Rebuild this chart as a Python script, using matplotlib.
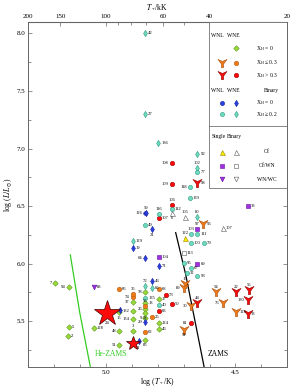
import numpy as np
import matplotlib
matplotlib.use("Agg")
import matplotlib.pyplot as plt
from matplotlib.path import Path
from matplotlib.patches import Rectangle
from matplotlib.ticker import MultipleLocator, FixedLocator

plt.rcParams['font.family'] = ['Liberation Serif', 'DejaVu Serif']
plt.rcParams['mathtext.fontset'] = 'stix'

# ---- data: log T*, log L, labels per class ----
wne0_T = [5.196, 5.145, 5.145, 5.147, 5.047, 4.949, 4.949, 4.949, 4.897, 4.897, 4.897, 4.897,
          4.849, 4.849, 4.849, 4.849, 4.849, 4.797, 4.797, 4.797, 4.849]
wne0_L = [5.836, 5.801, 5.448, 5.372, 5.439, 5.578, 5.416, 5.297, 5.668, 5.587, 5.520, 5.418,
          5.755, 5.659, 5.606, 5.572, 5.529, 5.694, 5.481, 5.429, 5.337]
wne0_lab = ['7', '94', '5', '2', '128', '15', '48', '51', '37', '132', '134', '3',
            '78', '18', '26', '58', '9', '17', '124', '46', '86']

wne3_T = [4.949, 4.897, 4.897, 4.797, 4.823, 4.849, 4.849]
wne3_L = [5.781, 5.709, 5.735, 5.781, 5.535, 5.403, 5.630]
wne3_lab = ['66', '74', '36', '68', '25', '62', '55']

wneR_T = [4.747, 4.747, 4.747, 4.797, 4.769, 4.747, 4.797, 4.673]
wneR_L = [6.871, 6.694, 6.511, 6.401, 5.724, 5.650, 5.587, 5.483]
wneR_lab = ['108', '109', '106', '107', '73', '50', '63', '81']

wnl3_T = [4.624, 4.696, 4.699, 4.673, 4.574, 4.549, 4.497, 4.699]
wnl3_L = [6.346, 5.820, 5.790, 5.636, 5.757, 5.657, 5.578, 5.424]
wnl3_lab = ['96', '16', '89', '30', '54', '76', '128', '91']

wnlR_T = [4.647, 4.647, 4.497, 4.449, 4.452, 4.452]
wnlR_L = [6.705, 5.657, 5.757, 5.772, 5.685, 5.561]
wnlR_lab = ['98', '44', '22', '55', '130', '13']

binE_T = [4.846, 4.823, 4.897, 4.849, 4.797, 4.823, 4.849, 4.872, 4.946]
binE_L = [6.439, 6.300, 6.140, 6.048, 5.981, 5.853, 5.497, 5.331, 5.594]
binE_lab = ['59', '21', '19', '64', '71', '43', '29', '', '']

binL_T = [4.849]
binL_L = [6.439]
binL_lab = ['126']

binEH_T = [4.849, 4.849, 4.799, 4.647, 4.647, 4.849, 4.897, 4.823, 4.647]
binEH_L = [8.001, 7.300, 7.048, 6.952, 6.404, 5.807, 6.198, 5.787, 6.833]
binEH_lab = ['42', '27', '136', '92', '80', '72', '129', '65', '102']

binLH_T = [4.647, 4.676, 4.676, 4.747, 4.849, 4.673, 4.647, 4.673, 4.622, 4.699, 4.673,
           4.689, 4.647, 4.797, 4.849, 4.797]
binLH_L = [6.798, 6.662, 6.570, 6.474, 6.337, 6.257, 6.257, 6.178, 6.178, 6.010, 5.966,
           5.920, 5.894, 5.644, 5.698, 6.435]
binLH_lab = ['77', '118', '139', '112', '49', '103', '111', '100', '79', '95', '67',
             '32', '93', '40', '135', '116']

of_T, of_L, of_lab = [4.696], [6.227], ['122']
ofB_T, ofB_L, ofB_lab = [4.746, 4.696, 4.549], [6.442, 6.404, 6.311], ['6', '105', '107']
ofwn_T = [4.451, 4.647, 4.647, 4.797]
ofwn_L = [6.503, 6.300, 5.998, 6.057]
ofwn_lab = ['33', '97', '69', '104']
ofwnB_T, ofwnB_L, ofwnB_lab = [4.699], [6.097], ['113']
wnwc_T, wnwc_L, wnwc_lab = [5.047], [5.801], ['88']

star_T = [4.996, 4.897]
star_L = [5.575, 5.311]
star_lab = ['24', '31']

hezams_T = [5.138, 5.102, 5.056]
hezams_L = [6.077, 5.580, 5.050]
zams_T = [4.731, 4.692, 4.638, 4.612]
zams_L = [6.270, 5.903, 5.294, 5.000]

tkk_ticks = [200, 150, 100, 60, 40, 20]

# label placement (default: right of marker)
side_left = {'7', '94', '48', '51', '37', '132', '134', '74', '126', '64', '29', '89',
             '30', '76', '118', '108', '109', '81', '130', '78', '26', '9'}
side_top = {'72', '3', '14', '59', '116', '106', '80', '102', '105', '44', '54', '22',
            '55', '16', '36', '97', '122', '103'}
side_bot = {'15', '86', '24', '6', '21', '91', '58'}

# notched down-triangle used for WNL stars
wnl_marker = Path([(-1, 0.9), (0, 0.45), (1, 0.9), (0.25, -0.1), (0.25, -0.9),
                   (-0.25, -0.9), (-0.25, -0.1), (-1, 0.9)],
                  [Path.MOVETO] + [Path.LINETO] * 6 + [Path.CLOSEPOLY])

GREEN = '#9ad93a'
ORANGE = '#f07a18'
RED = '#ff0a0a'
BLUE = '#2a3fe0'
TEAL = '#6fdcc0'
PURPLE = '#a030e0'
YELLOW = '#f4f000'

fig = plt.figure(figsize=(2.91, 3.89), dpi=100)
ax = fig.add_axes([0.0962, 0.0558, 0.890, 0.8877])


def put(T, L, labs, mk, fc, ec, ms, z=3, mew=0.4):
    ax.plot(T, L, ls='none', marker=mk, ms=ms, mfc=fc, mec=ec, mew=mew, zorder=z)
    for t, l, s in zip(T, L, labs):
        if not s:
            continue
        if s in side_left:
            ax.annotate(s, (t, l), xytext=(-2.2, 0), textcoords='offset points',
                        ha='right', va='center', fontsize=3.3, zorder=6)
        elif s in side_top:
            ax.annotate(s, (t, l), xytext=(0, 2.2), textcoords='offset points',
                        ha='center', va='bottom', fontsize=3.3, zorder=6)
        elif s in side_bot:
            ax.annotate(s, (t, l), xytext=(0, -2.5), textcoords='offset points',
                        ha='center', va='top', fontsize=3.3, zorder=6)
        else:
            ax.annotate(s, (t, l), xytext=(2.2, 0), textcoords='offset points',
                        ha='left', va='center', fontsize=3.3, zorder=6)


ax.plot(hezams_T, hezams_L, color='#33cc22', lw=0.9, zorder=2)
ax.plot(zams_T, zams_L, color='k', lw=0.9, zorder=2)
ax.text(4.981, 5.216, 'He-ZAMS', color='#33cc22', fontsize=5.5, ha='center', va='center')
ax.text(4.565, 5.216, 'ZAMS', color='k', fontsize=5.5, ha='center', va='center')

put(binL_T, binL_L, binL_lab, 'o', BLUE, '#1020a0', 2.6)
put(wne0_T, wne0_L, wne0_lab, 'D', GREEN, '#5a9a20', 2.8)
put(wne3_T, wne3_L, wne3_lab, 'o', ORANGE, '#b85a10', 3.2)
put(wneR_T, wneR_L, wneR_lab, 'o', RED, '#a00000', 3.2)
put(wnl3_T, wnl3_L, wnl3_lab, wnl_marker, ORANGE, '#a85010', 6.5)
put(wnlR_T, wnlR_L, wnlR_lab, wnl_marker, RED, '#900000', 6.5)
put(binE_T, binE_L, binE_lab, 'd', BLUE, '#1020a0', 3.2)
put(binEH_T, binEH_L, binEH_lab, 'd', TEAL, '#2a9a80', 3.2)
put(binLH_T, binLH_L, binLH_lab, 'o', TEAL, '#2a9a80', 3.0)
put(of_T, of_L, of_lab, '^', YELLOW, '#a08000', 3.6)
put(ofB_T, ofB_L, ofB_lab, '^', 'white', '0.35', 3.6)
put(ofwn_T, ofwn_L, ofwn_lab, 's', PURPLE, '#6010a0', 2.6)
put(ofwnB_T, ofwnB_L, ofwnB_lab, 's', 'white', '0.35', 2.6)
put(wnwc_T, wnwc_L, wnwc_lab, 'v', PURPLE, '#6010a0', 3.4)
ax.plot(star_T[:1], star_L[:1], ls='none', marker='*', ms=19, mfc=RED, mec='#400000', mew=0.5, zorder=5)
ax.plot(star_T[1:], star_L[1:], ls='none', marker='*', ms=10, mfc=RED, mec='#400000', mew=0.5, zorder=5)
ax.annotate(star_lab[0], (star_T[0], star_L[0]), xytext=(0, -6), textcoords='offset points',
            ha='center', va='top', fontsize=3.3)
ax.annotate(star_lab[1], (star_T[1], star_L[1]), xytext=(2.5, -2), textcoords='offset points',
            ha='left', va='top', fontsize=3.3)

ax.set_xlim(5.3015, 4.301)
ax.set_ylim(5.1, 8.1)
ax.xaxis.set_major_locator(FixedLocator([5.0, 4.5]))
ax.xaxis.set_minor_locator(MultipleLocator(0.1))
ax.yaxis.set_major_locator(MultipleLocator(0.5))
ax.yaxis.set_minor_locator(MultipleLocator(0.25))
ax.tick_params(which='both', direction='in', right=True, labelsize=5, color='0.4', width=0.5, pad=2)
ax.tick_params(which='major', length=3)
ax.tick_params(which='minor', length=2)
for sp in ax.spines.values():
    sp.set_color('0.4')
    sp.set_linewidth(0.7)
ax.set_xlabel(r'log ($T_*$/K)', fontsize=5.5, labelpad=0.5)
ax.set_ylabel(r'log ($L/L_\odot$)', fontsize=5.5, labelpad=2)

sec = ax.secondary_xaxis('top', functions=(lambda x: 10 ** x / 1000.0,
                                           lambda k: np.log10(np.clip(k, 1e-3, None) * 1000.0)))
sec.xaxis.set_major_locator(FixedLocator(tkk_ticks))
sec.xaxis.set_minor_locator(FixedLocator([30, 50, 70, 80, 90]))
sec.set_xticklabels([str(t) for t in tkk_ticks])
sec.tick_params(which='both', direction='in', labelsize=5, color='0.4', width=0.5, pad=2)
sec.tick_params(which='major', length=3)
sec.tick_params(which='minor', length=2)
sec.spines['top'].set_color('0.4')
sec.set_xlabel(r'$T_*$/kK', fontsize=5.5, labelpad=3)

# ---- legend box ----
tr = ax.transAxes
ax.add_patch(Rectangle((0.699, 0.519), 0.301, 0.481, transform=tr, fc='white',
                       ec='0.45', lw=0.6, zorder=7))
ax.plot([0.699, 1.0], [0.699, 0.699], transform=tr, color='0.45', lw=0.6, zorder=8)
fs = 4.0


def lt(x, y, s, ha='center'):
    ax.text(x, y, s, transform=tr, fontsize=fs, ha=ha, va='center', zorder=9)


def lm(x, y, mk, fc, ec, ms):
    ax.plot([x], [y], transform=tr, ls='none', marker=mk, mfc=fc, mec=ec, ms=ms,
            mew=0.4, zorder=9, clip_on=False)


c1, c2, c3 = 0.748, 0.803, 0.880
lt(0.730, 0.962, 'WNL')
lt(0.792, 0.962, 'WNE')
lm(c2, 0.924, 'D', GREEN, '#5a9a20', 2.8)
lt(c3, 0.924, r'X$_\mathrm{H}$ = 0', 'left')
lm(c1, 0.882, wnl_marker, ORANGE, '#a85010', 6.5)
lm(c2, 0.882, 'o', ORANGE, '#b85a10', 3.2)
lt(c3, 0.882, r'X$_\mathrm{H}$ ≤ 0.3', 'left')
lm(c1, 0.846, wnl_marker, RED, '#900000', 6.5)
lm(c2, 0.846, 'o', RED, '#a00000', 3.2)
lt(c3, 0.846, r'X$_\mathrm{H}$ > 0.3', 'left')
lt(0.730, 0.801, 'WNL')
lt(0.792, 0.801, 'WNE')
lt(0.941, 0.801, 'Binary')
lm(c1, 0.766, 'o', BLUE, '#1020a0', 3.0)
lm(c2, 0.766, 'd', BLUE, '#1020a0', 3.2)
lt(c3, 0.766, r'X$_\mathrm{H}$ = 0', 'left')
lm(c1, 0.733, 'o', TEAL, '#2a9a80', 3.0)
lm(c2, 0.733, 'd', TEAL, '#2a9a80', 3.2)
lt(c3, 0.733, r'X$_\mathrm{H}$ ≥ 0.2', 'left')
lt(0.735, 0.667, 'Single')
lt(0.797, 0.667, 'Binary')
lm(c1, 0.624, '^', YELLOW, '#a08000', 3.6)
lm(c2, 0.624, '^', 'white', '0.35', 3.6)
lt(0.922, 0.624, 'Of')
lm(c1, 0.584, 's', PURPLE, '#6010a0', 2.6)
lm(c2, 0.584, 's', 'white', '0.35', 2.6)
lt(0.922, 0.584, 'Of/WN')
lm(c1, 0.544, 'v', PURPLE, '#6010a0', 3.4)
lm(c2, 0.544, 'v', 'white', '0.35', 3.4)
lt(0.922, 0.544, 'WN/WC')

fig.savefig('out.png', dpi=100)
